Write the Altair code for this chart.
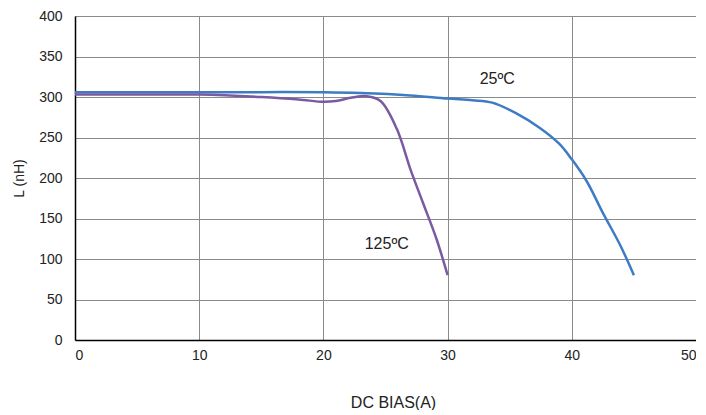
import altair as alt
import pandas as pd

x25 = [0, 5, 10, 15, 20, 23, 27, 30, 32, 33.6, 35.5, 37.4, 39, 40, 41.2, 42.5, 43.9, 45]
y25 = [306, 306, 306, 306, 306, 305, 302, 298, 296, 293, 280, 262, 242, 223, 196, 157, 117, 80]

x125 = [0, 5, 10, 15, 18, 20, 21, 22.2, 23.5, 24.6, 25.9, 27, 28, 29.1, 30]
y125 = [303, 303, 303, 300, 297, 294, 295, 299, 301, 295, 261, 211, 170, 125, 80]

labels = ["25ºC", "125ºC"]
label_x = [34.0, 25.1]
label_y = [322, 118]

df = pd.concat([
    pd.DataFrame({"x": x25, "y": y25, "s": "25ºC"}),
    pd.DataFrame({"x": x125, "y": y125, "s": "125ºC"}),
])
lab = pd.DataFrame({"x": label_x, "y": label_y, "t": labels})

xs = alt.Scale(domain=[0, 50], nice=False)
ys = alt.Scale(domain=[0, 400], nice=False)

lines = alt.Chart(df).mark_line(strokeWidth=2.5, interpolate="catmull-rom").encode(
    x=alt.X("x:Q", scale=xs, title="DC BIAS(A)",
            axis=alt.Axis(values=[0, 10, 20, 30, 40, 50], tickSize=0, labelPadding=8,
                          titleX=318, titleY=62, titleBaseline="middle", titleAlign="center",
                          titleFontSize=16,
                          domainColor="black", domainWidth=1.5)),
    y=alt.Y("y:Q", scale=ys, title="L (nH)",
            axis=alt.Axis(values=[0, 50, 100, 150, 200, 250, 300, 350, 400], tickSize=0,
                          labelPadding=13, titlePadding=12, titleFontSize=14,
                          domainColor="black", domainWidth=1.5)),
    color=alt.Color("s:N", scale=alt.Scale(domain=["25ºC", "125ºC"], range=["#3d7cc4", "#7a5aa3"]),
                    legend=None),
    detail="s:N",
)

text = alt.Chart(lab).mark_text(font="Liberation Sans", fontSize=16, color="#222").encode(
    x=alt.X("x:Q", scale=xs), y=alt.Y("y:Q", scale=ys), text="t:N"
)

chart = (lines + text).properties(
    width=621, height=324,
    autosize=alt.AutoSizeParams(type="none"),
    padding={"left": 67, "top": 8, "right": 0, "bottom": 70},
    background="white",
).configure_axis(
    labelFont="Liberation Sans", titleFont="Liberation Sans", labelFontSize=14,
    titleFontWeight="normal", labelColor="#222", titleColor="#222",
    gridColor="#8a8a8a", gridWidth=1, gridOpacity=1,
).configure_view(stroke=None)

chart.save("out.html", embed_options={"renderer": "svg", "actions": False})
